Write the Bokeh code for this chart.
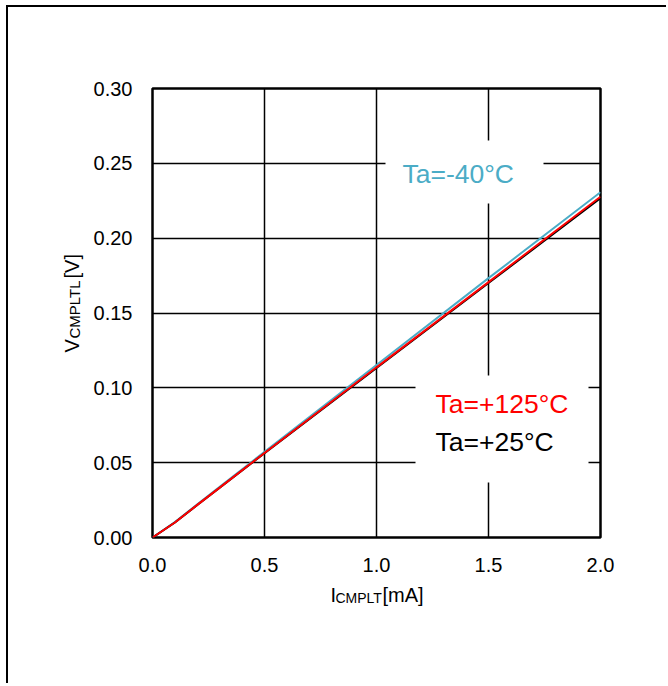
import math
from bokeh.plotting import figure
from bokeh.models import FixedTicker, NumeralTickFormatter, Label, BoxAnnotation, Range1d
from bokeh.embed import file_html
from bokeh.resources import INLINE

# ---- data ----
i_cmplt_ma = [0.0, 0.1, 0.2, 0.3, 0.5, 1.0, 1.5, 2.0]
v_ta_m40 = [0.0, 0.0103, 0.0222, 0.0338, 0.0572, 0.1153, 0.1733, 0.2307]
v_ta_p25 = [0.0, 0.0100, 0.0217, 0.0332, 0.0563, 0.1133, 0.1700, 0.2268]
v_ta_p125 = [0.0, 0.0100, 0.0218, 0.0333, 0.0565, 0.1137, 0.1706, 0.2277]
x_ticks = [0.0, 0.5, 1.0, 1.5, 2.0]
y_ticks = [0.0, 0.05, 0.10, 0.15, 0.20, 0.25, 0.30]

FONT = "Liberation Sans"
BLUE = "#4BACC6"
RED = "#FF0000"

# canvas origin in the window (after the css border/margin)
OX, OY = 8, 7
W, H = 660, 678
# frame in window px
WL, WT, WR, WB = 152, 88, 600, 537
# vertical correction for the text baseline placement
DT = 10

p = figure(width=W, height=H, output_backend="svg", toolbar_location=None,
           x_range=Range1d(0, 2.0), y_range=Range1d(0, 0.30),
           min_border_left=WL - OX, min_border_top=WT - OY,
           min_border_right=W - (WR - OX), min_border_bottom=H - (WB - OY))
p.styles = {"border-left": "2px solid black", "border-top": "2px solid black",
            "margin-left": "6px", "margin-top": "5px"}

def px2x(wx):
    return (wx - WL) / (WR - WL) * 2.0

def py2y(wy):
    return (WB - wy) / (WB - WT) * 0.30

p.outline_line_color = "black"
p.outline_line_width = 2.5
p.background_fill_color = "white"
p.border_fill_color = "white"

for g in (p.xgrid, p.ygrid):
    g.grid_line_color = "black"
    g.grid_line_width = 1.5
p.xgrid.ticker = FixedTicker(ticks=x_ticks)
p.ygrid.ticker = FixedTicker(ticks=y_ticks)

p.xaxis.ticker = FixedTicker(ticks=x_ticks)
p.yaxis.ticker = FixedTicker(ticks=y_ticks)
p.xaxis.formatter = NumeralTickFormatter(format="0.0")
p.yaxis.formatter = NumeralTickFormatter(format="0.00")
for ax in (p.xaxis, p.yaxis):
    ax.axis_line_color = None
    ax.major_tick_line_color = None
    ax.minor_tick_line_color = None
    ax.major_tick_out = 0
    ax.major_tick_in = 0
    ax.major_label_text_font = FONT
    ax.major_label_text_font_size = "20px"
    ax.major_label_text_color = "black"
p.xaxis.major_label_standoff = 20
p.yaxis.major_label_standoff = 20

# white boxes behind the annotations (they break the grid)
p.add_layout(BoxAnnotation(left=px2x(385), right=px2x(543), bottom=py2y(203), top=py2y(140),
                           fill_color="white", fill_alpha=1.0, line_color=None, level="underlay"))
p.add_layout(BoxAnnotation(left=px2x(415), right=px2x(588), bottom=py2y(482), top=py2y(375),
                           fill_color="white", fill_alpha=1.0, line_color=None, level="underlay"))

p.line(i_cmplt_ma, v_ta_m40, line_color=BLUE, line_width=2)
p.line(i_cmplt_ma, v_ta_p25, line_color="black", line_width=2)
p.line(i_cmplt_ma, v_ta_p125, line_color=RED, line_width=2)

def dlab(wx, wy, text, size, color="black"):
    p.add_layout(Label(x=px2x(wx), y=py2y(wy - DT), text=text, text_font=FONT,
                       text_font_size=size, text_color=color,
                       text_align="left", text_baseline="alphabetic"))

dlab(402, 183, "Ta=-40°C", "26.5px", BLUE)
dlab(435, 413, "Ta=+125°C", "26.5px", RED)
dlab(435, 451, "Ta=+25°C", "26.5px", "black")

# axis-title pieces live in the side panels (not clipped to the frame)
def clab(wx, wy, text, size, side, angle=0.0):
    p.add_layout(Label(x=wx - OX, y=wy - OY, x_units="canvas", y_units="canvas",
                       text=text, text_font=FONT, text_font_size=size,
                       text_color="black", angle=angle,
                       text_align="left", text_baseline="alphabetic"), side)

# x axis label: I_CMPLT[mA]
clab(328, 602 - DT, "I", "20px", "below")
clab(333, 605 - DT, "CMPLT", "14px", "below")
clab(380, 602 - DT, "[mA]", "20px", "below")

# y axis label: V_CMPLTL[V] (rotated, reads upward)
clab(80 - 11, 350, "V", "20px", "left", angle=math.pi / 2)
clab(83 - 11, 336, "CMPLTL", "15px", "left", angle=math.pi / 2)
clab(80 - 11, 276, "[V]", "20px", "left", angle=math.pi / 2)

open("out.html", "w").write(file_html(p, INLINE))
